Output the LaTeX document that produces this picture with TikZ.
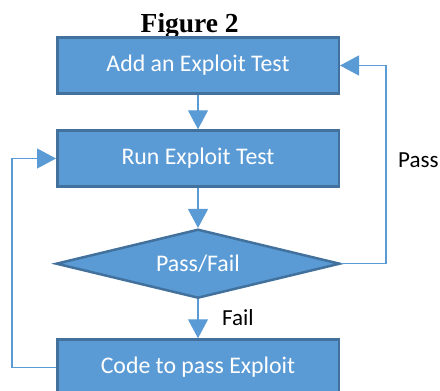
\documentclass[tikz,border=0pt]{standalone}
\usepackage{fontspec}
\setmainfont{Carlito}
\newfontfamily\titlefont{Liberation Serif}
\usetikzlibrary{shapes.geometric,arrows.meta}
\definecolor{boxfill}{HTML}{5B9BD5}
\definecolor{boxline}{HTML}{41719C}
\definecolor{connc}{HTML}{5B9BD5}
\tikzset{
  stepbox/.style={draw=boxline, fill=boxfill, line width=2.5pt, minimum width=281.5pt, minimum height=56pt, inner sep=0pt, text=white, font=\fontsize{23.8}{27}\selectfont},
  decide/.style={diamond, draw=boxline, fill=boxfill, line width=2.5pt, minimum width=284pt, minimum height=69pt, aspect=4, inner sep=0pt, text=white, font=\fontsize{23.8}{27}\selectfont},
  conn/.style={draw=connc, line width=1.2pt, -{Triangle[length=19pt,width=20pt]}},
  lbl/.style={font=\fontsize{23}{27}\selectfont, text=black, inner sep=0pt, anchor=base west},
}
\begin{document}
\begin{tikzpicture}[x=1pt,y=-1pt]
\useasboundingbox (0,0) rectangle (440,391);
\clip (0,0) rectangle (440,391);
\node[inner sep=0pt, anchor=base west, font=\titlefont\bfseries\fontsize{27.5}{30}\selectfont] (title) at (140.5,32.3) {Figure 2};
\node[stepbox] (b1) at (198,65.5) {Add an Exploit Test};
\node[stepbox] (b2) at (198,158.5) {Run Exploit Test};
\node[decide] (d) at (198,263.7) {Pass/Fail};
\node[stepbox] (b3) at (198,367.5) {Code to pass Exploit};
\coordinate (rx) at (386,0);
\coordinate (lx) at (12,0);
\draw[conn] (b1.south) -- (b2.north);
\draw[conn] (b2.south) -- (d.north);
\draw[conn] (d.south) -- (b3.north);
\draw[conn] (d.east) -- (d.east -| rx) |- (b1.east);
\draw[conn] (b3.west) -- (b3.west -| lx) |- (b2.west);
\node[lbl] (pass) at (398,167) {Pass};
\node[lbl] (fail) at (222,325) {Fail};
\end{tikzpicture}
\end{document}
